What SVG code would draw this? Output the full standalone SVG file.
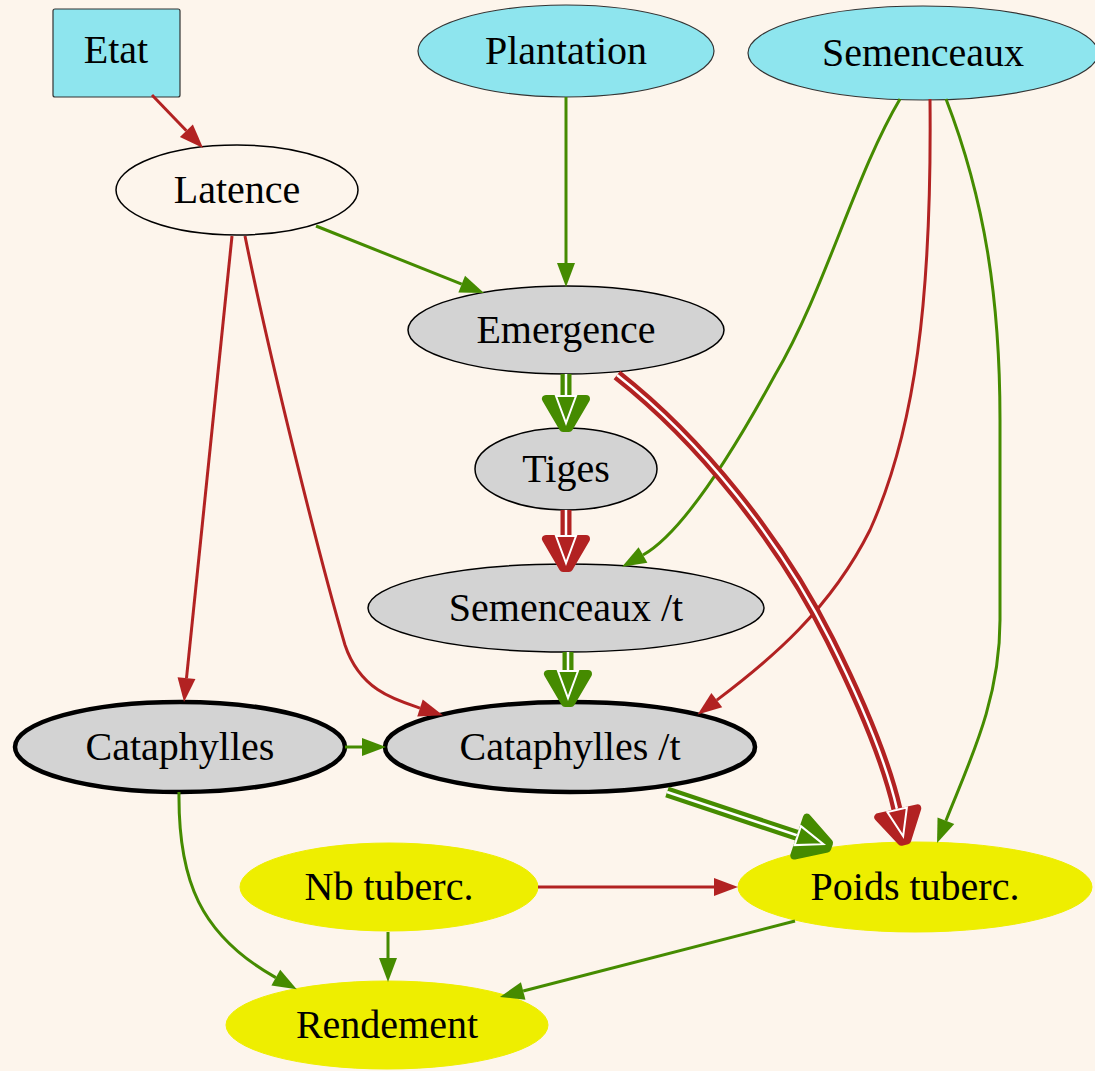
<svg xmlns="http://www.w3.org/2000/svg" width="1095" height="1071" viewBox="0 0 1095 1071">
<style>
text{font-family:"Liberation Serif","Times New Roman",serif;font-size:40px;fill:#000;text-anchor:middle}
.src{fill:#8ee5ee;stroke:#333;stroke-width:1.2}
.plain{fill:none;stroke:#000;stroke-width:1.5}
.gray{fill:#d3d3d3;stroke:#000;stroke-width:1.5}
.bold{fill:#d3d3d3;stroke:#000;stroke-width:4.5}
.yel{fill:#eeee00;stroke:#eeee00;stroke-width:1}
.r{fill:none;stroke:#b22222;stroke-width:3}
.g{fill:none;stroke:#458b00;stroke-width:3}
.rA{marker-end:url(#ar)}
.gA{marker-end:url(#ag)}
.dr1{fill:none;stroke:#b22222;stroke-width:11}
.dg1{fill:none;stroke:#458b00;stroke-width:11}
.dwr{fill:none;stroke:#fff;stroke-width:2.5;marker-end:url(#dar)}
.dwg{fill:none;stroke:#fff;stroke-width:2.5;marker-end:url(#dag)}
</style>
<defs>
<marker id="ar" markerUnits="userSpaceOnUse" markerWidth="30" markerHeight="30" refX="0" refY="0" orient="auto" overflow="visible" viewBox="-5 -15 30 30">
<path d="M0,-9 L24,0 L0,9 z" fill="#b22222"/>
</marker>
<marker id="ag" markerUnits="userSpaceOnUse" markerWidth="30" markerHeight="30" refX="0" refY="0" orient="auto" overflow="visible" viewBox="-5 -15 30 30">
<path d="M0,-9 L24,0 L0,9 z" fill="#458b00"/>
</marker>
<marker id="dar" markerUnits="userSpaceOnUse" markerWidth="50" markerHeight="50" refX="0" refY="0" orient="auto" overflow="visible" viewBox="-5 -25 50 50">
<polygon points="4,-20 33,-3 33,3 4,20" fill="#b22222" stroke="#b22222" stroke-width="8" stroke-linejoin="round"/>
<polygon points="1,-10 28,0 1,10" fill="#b22222" stroke="#fff" stroke-width="2"/>
</marker>
<marker id="dag" markerUnits="userSpaceOnUse" markerWidth="50" markerHeight="50" refX="0" refY="0" orient="auto" overflow="visible" viewBox="-5 -25 50 50">
<polygon points="4,-20 33,-3 33,3 4,20" fill="#458b00" stroke="#458b00" stroke-width="8" stroke-linejoin="round"/>
<polygon points="1,-10 28,0 1,10" fill="#458b00" stroke="#fff" stroke-width="2"/>
</marker>
</defs>
<rect width="1095" height="1071" fill="#fdf5ec"/>
<g id="nodes">
<g id="etat"><rect class="src" x="53" y="9" width="127" height="88" rx="2"/><text x="116" y="63">Etat</text></g>
<g id="plantation"><ellipse class="src" cx="566" cy="51" rx="148" ry="46"/><text x="566" y="64">Plantation</text></g>
<g id="semenceaux"><ellipse class="src" cx="923" cy="53" rx="175" ry="47"/><text x="923" y="66">Semenceaux</text></g>
<g id="latence"><ellipse class="plain" cx="237" cy="190" rx="121" ry="45"/><text x="237" y="203">Latence</text></g>
<g id="emergence"><ellipse class="gray" cx="566" cy="330" rx="158" ry="44"/><text x="566" y="343">Emergence</text></g>
<g id="tiges"><ellipse class="gray" cx="566" cy="469" rx="91" ry="41"/><text x="566" y="482">Tiges</text></g>
<g id="semenceaux_t"><ellipse class="gray" cx="566" cy="608" rx="198" ry="44"/><text x="566" y="621">Semenceaux /t</text></g>
<g id="cataphylles"><ellipse class="bold" cx="180" cy="747" rx="165" ry="45"/><text x="180" y="760">Cataphylles</text></g>
<g id="cataphylles_t"><ellipse class="bold" cx="570" cy="747" rx="185" ry="45"/><text x="570" y="760">Cataphylles /t</text></g>
<g id="nb_tuberc"><ellipse class="yel" cx="389" cy="887" rx="149" ry="44"/><text x="389" y="900">Nb tuberc.</text></g>
<g id="poids_tuberc"><ellipse class="yel" cx="915" cy="887" rx="177" ry="45"/><text x="915" y="900">Poids tuberc.</text></g>
<g id="rendement"><ellipse class="yel" cx="387" cy="1025" rx="161" ry="44"/><text x="387" y="1038">Rendement</text></g>
</g>
<g id="connectors">
<path class="r rA" d="M152,95 L186.4,130.7"/>
<path class="g gA" d="M566,97 L566,263"/>
<path class="g gA" d="M316,226 L461.7,284.1"/>
<path class="r rA" d="M232,236 L186.5,678.1"/>
<path class="r rA" d="M245,236 C270,360 320,560 345,645 C360,690 395,700 420,708"/>
<path class="g gA" d="M900,99 C855,175 825,290 775,375 C745,430 686.6,530.6 643,555"/>
<path class="r rA" d="M930,99 C932,300 915,430 870,530 C830,610 770,660 716.8,700.1"/>
<path class="g gA" d="M946,99 C985,200 1000,300 1000,420 L1000,620 C1000,700 970,760 945.9,820.7"/>
<path class="g gA" d="M345,747 L362,747"/>
<path class="g gA" d="M179,792 C178,880 200,935 275.8,977.6"/>
<path class="r rA" d="M538,887 L714,887"/>
<path class="g gA" d="M388,932 L388,958"/>
<path class="g gA" d="M795,921 L523.2,991"/>
<g id="e_emerg_tiges"><path class="dg1" d="M566,374 L566,395"/><path class="dwg" d="M566,374 L566,395"/></g>
<g id="e_tiges_semt"><path class="dr1" d="M566,510 L566,535"/><path class="dwr" d="M566,510 L566,535"/></g>
<g id="e_semt_catt"><path class="dg1" d="M568,652 L568,670"/><path class="dwg" d="M568,652 L568,670"/></g>
<g id="e_emerg_poids"><path class="dr1" d="M617,375 C700,440 780,540 830,640 C865,710 888,770 896.9,808.9"/><path class="dwr" d="M617,375 C700,440 780,540 830,640 C865,710 888,770 896.9,808.9"/></g>
<g id="e_catt_poids"><path class="dg1" d="M667,792 L796.8,835.3"/><path class="dwg" d="M667,792 L796.8,835.3"/></g>
</g>
</svg>
